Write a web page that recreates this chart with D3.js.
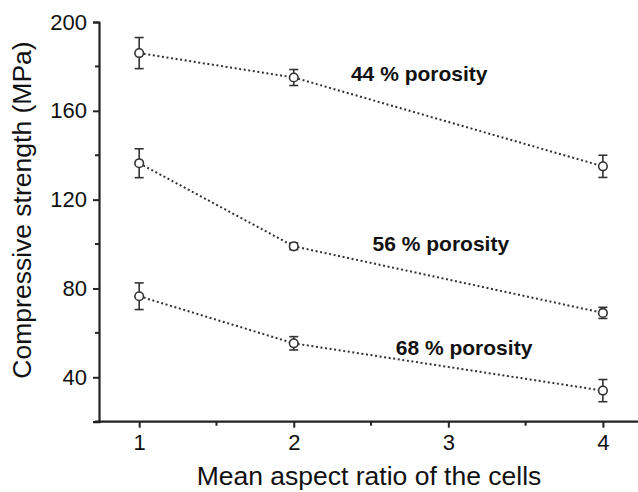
<!DOCTYPE html>
<html>
<head>
<meta charset="utf-8">
<script src="https://cdn.jsdelivr.net/npm/d3@7"></script>
<style>
  body { margin: 0; background: #fff; }
  svg { display: block; font-family: "Liberation Sans", Arial, sans-serif; }
</style>
</head>
<body>
<div id="chart"></div>
<script>
// aspect ratio of the cells
const aspectRatios = [1, 2, 4];

// compressive strength (MPa) and error, one list per porosity
const porosity44 = [186, 175, 135];
const error44 = [7, 3.6, 5];
const porosity56 = [136.4, 99, 69];
const error56 = [6.5, 1.5, 2.5];
const porosity68 = [76.5, 55.3, 34];
const error68 = [6, 3, 5];

const seriesLabels = ["44 % porosity", "56 % porosity", "68 % porosity"];
// where each label sits, in data units
const labelPos = [[2.37, 173.5], [2.51, 97], [2.66, 50]];

const xTicks = [1, 2, 3, 4];
const xMinor = [1.5, 2.5, 3.5];
const yTicks = [40, 80, 120, 160, 200];
const yMinor = [60, 100, 140, 180];

const width = 638, height = 492;

const x = d3.scaleLinear().domain([0.74, 4.24]).range([99, 640]);
const y = d3.scaleLinear().domain([20, 200]).range([421.7, 22]);

const svg = d3.select("#chart").append("svg")
    .attr("width", width)
    .attr("height", height);

// axes
const xAxis = svg.append("g")
    .attr("transform", "translate(0," + y(20) + ")")
    .call(d3.axisBottom(x).tickValues(xTicks).tickSize(6).tickPadding(7).tickFormat(d3.format("d")));
xAxis.append("g").selectAll("line").data(xMinor).join("line")
    .attr("x1", d => x(d)).attr("x2", d => x(d))
    .attr("y1", 0).attr("y2", 4);

const yAxis = svg.append("g")
    .attr("transform", "translate(" + x(0.74) + ",0)")
    .call(d3.axisLeft(y).tickValues(yTicks).tickSize(6).tickPadding(6).tickFormat(d3.format("d")));
yAxis.append("g").selectAll("line").data(yMinor).join("line")
    .attr("x1", 0).attr("x2", -4)
    .attr("y1", d => y(d)).attr("y2", d => y(d));

svg.selectAll(".domain").attr("stroke", "#222").attr("stroke-width", 2.2);
svg.selectAll("g line").attr("stroke", "#222").attr("stroke-width", 2);
svg.selectAll(".tick text")
    .attr("font-size", 22)
    .attr("fill", "#111")
    .style("font-family", "'Liberation Sans', Arial, sans-serif");
// x axis domain reaches a little left of the y axis
xAxis.select(".domain").attr("d", "M" + (x(0.74) - 4) + ",0H" + 640);

// axis titles
svg.append("text")
    .attr("x", 369).attr("y", 485)
    .attr("text-anchor", "middle")
    .attr("font-size", 26.5)
    .attr("fill", "#111")
    .text("Mean aspect ratio of the cells");

svg.append("text")
    .attr("transform", "translate(31,210) rotate(-90)")
    .attr("text-anchor", "middle")
    .attr("font-size", 26.5)
    .attr("fill", "#111")
    .text("Compressive strength (MPa)");

// series
const allSeries = [
    { values: porosity44, errors: error44 },
    { values: porosity56, errors: error56 },
    { values: porosity68, errors: error68 }
];

const line = d3.line()
    .x(d => x(d[0]))
    .y(d => y(d[1]));

allSeries.forEach((s, i) => {
    const pts = aspectRatios.map((a, j) => [a, s.values[j], s.errors[j]]);

    svg.append("path")
        .datum(pts)
        .attr("d", line)
        .attr("fill", "none")
        .attr("stroke", "#333")
        .attr("stroke-width", 2)
        .attr("stroke-dasharray", "2,2.6");

    const g = svg.append("g").selectAll("g").data(pts).join("g");

    g.append("line")
        .attr("x1", d => x(d[0])).attr("x2", d => x(d[0]))
        .attr("y1", d => y(d[1] + d[2])).attr("y2", d => y(d[1] - d[2]))
        .attr("stroke", "#333").attr("stroke-width", 1.6);
    g.append("line")
        .attr("x1", d => x(d[0]) - 4.5).attr("x2", d => x(d[0]) + 4.5)
        .attr("y1", d => y(d[1] + d[2])).attr("y2", d => y(d[1] + d[2]))
        .attr("stroke", "#333").attr("stroke-width", 1.6);
    g.append("line")
        .attr("x1", d => x(d[0]) - 4.5).attr("x2", d => x(d[0]) + 4.5)
        .attr("y1", d => y(d[1] - d[2])).attr("y2", d => y(d[1] - d[2]))
        .attr("stroke", "#333").attr("stroke-width", 1.6);
    g.append("circle")
        .attr("cx", d => x(d[0])).attr("cy", d => y(d[1]))
        .attr("r", 4.3)
        .attr("fill", "#fff")
        .attr("stroke", "#333").attr("stroke-width", 1.6);

    svg.append("text")
        .attr("x", x(labelPos[i][0])).attr("y", y(labelPos[i][1]))
        .attr("font-size", 21)
        .attr("font-weight", "bold")
        .attr("fill", "#111")
        .text(seriesLabels[i]);
});
</script>
</body>
</html>
